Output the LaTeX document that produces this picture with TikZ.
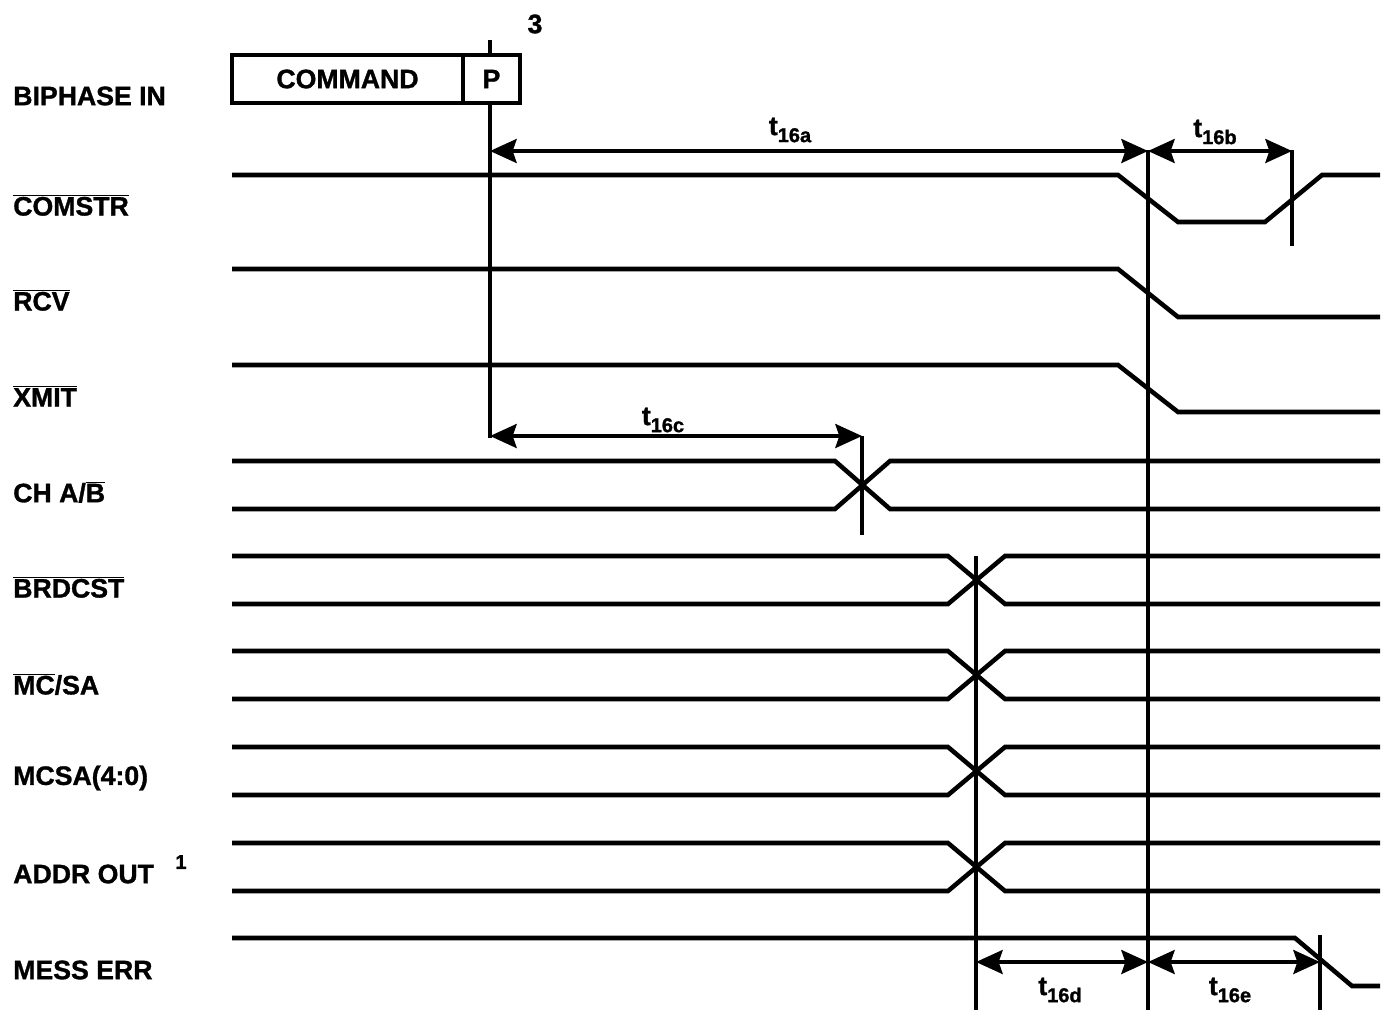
\documentclass[tikz,border=0pt]{standalone}
\usepackage{fontspec}
\setmainfont{Liberation Sans}[BoldFont={Liberation Sans Bold}]
\newfontfamily\bfont{Liberation Sans Bold}[FakeBold=1.2]
\usetikzlibrary{arrows.meta}
\newcommand\ovl[1]{$\overline{\mbox{#1}}$}
\newcommand\tsub[1]{t\raisebox{-0.5ex}{\fontsize{15}{15}\bfont #1}}
\begin{document}
\begin{tikzpicture}[x=0.75pt,y=-0.75pt,
  sig/.style={line width=3.4pt, line join=miter},
  vline/.style={line width=2.6pt},
  dim/.style={line width=2.6pt, {Stealth[length=20pt,width=18pt,inset=3pt,fill=black]}-{Stealth[length=20pt,width=18pt,inset=3pt,fill=black]}},
  lbl/.style={anchor=west, inner sep=0pt, font=\fontsize{20}{24}\bfont},
  tlab/.style={inner sep=0pt, font=\fontsize{20}{24}\bfont},
  boxn/.style={draw, line width=2.6pt, minimum height=36pt, inner sep=0pt, font=\fontsize{20}{24}\bfont}]
\useasboundingbox (0,0) rectangle (1385,1011);

% labels
\node[lbl] (lbip) at (13,96) {BIPHASE IN};
\node[lbl] (lcom) at (13,205) {\ovl{COMSTR}};
\node[lbl] (lrcv) at (13,300) {\ovl{RCV}};
\node[lbl] (lxmit) at (13,396) {\ovl{XMIT}};
\node[lbl] (lch) at (13,492) {CH A/\ovl{B}};
\node[lbl] (lbrd) at (13,587) {\ovl{BRDCST}};
\node[lbl] (lmc) at (13,684) {\ovl{MC}/SA};
\node[lbl] (lmcsa) at (13,778) {MCSA(4:0)};
\node[lbl] (ladr) at (13,874) {ADDR OUT};
\node[tlab, font=\fontsize{15}{15}\bfont] (sup1) at (181,862) {1};
\node[lbl] (lmes) at (13,970) {MESS ERR};

% command box
\node[boxn, minimum width=173.25pt] (cmd) at (347.5,79) {COMMAND};
\node[boxn, minimum width=42.75pt] (pbox) at (491.5,79) {P};
\node[tlab] (three) at (535,24) {3};

% reference coordinates
\coordinate (v0top) at (490,40);
\coordinate (a1) at (490,151);
\coordinate (a2) at (1148,151);
\coordinate (a3) at (1292,151);
\coordinate (c1) at (490,436);
\coordinate (c2) at (862,436);
\coordinate (d1) at (976,962);
\coordinate (d2) at (1148,962);
\coordinate (d3) at (1320,962);

% vertical lines
\draw[vline] (v0top) -- (pbox.north -| v0top);
\draw[vline] (pbox.south -| v0top) -- (490,438);
\draw[vline] (1148,150) -- (1148,1010);
\draw[vline] (1292,150) -- (1292,246);
\draw[vline] (862,436) -- (862,535);
\draw[vline] (976,556) -- (976,1010);
\draw[vline] (1320,935) -- (1320,1010);

% waveforms
\draw[sig] (232,175) -- (1118,175) -- (1178,222) -- (1265,222) -- (1322,175) -- (1380,175);
\draw[sig] (232,269) -- (1118,269) -- (1178,317) -- (1380,317);
\draw[sig] (232,365) -- (1118,365) -- (1178,412) -- (1380,412);
\draw[sig] (232,461) -- (835,461) -- (890,509) -- (1380,509);
\draw[sig] (232,509) -- (835,509) -- (890,461) -- (1380,461);
\foreach \y in {556,651,747,843}{
  \draw[sig] (232,\y) -- (948,\y) -- (1005,\y+48) -- (1380,\y+48);
  \draw[sig] (232,\y+48) -- (948,\y+48) -- (1005,\y) -- (1380,\y);
}
\draw[sig] (232,938) -- (1295,938) -- (1352,986) -- (1380,986);

% dimension arrows
\draw[dim] (a1) -- (a2);
\draw[dim] (a2) -- (a3);
\draw[dim] (c1) -- (c2);
\draw[dim] (d1) -- (d2);
\draw[dim] (d2) -- (d3);

\node[tlab] (t16a) at (790,130) {\tsub{16a}};
\node[tlab] (t16b) at (1215,132) {\tsub{16b}};
\node[tlab] (t16c) at (663,420) {\tsub{16c}};
\node[tlab] (t16d) at (1060,990) {\tsub{16d}};
\node[tlab] (t16e) at (1230,990) {\tsub{16e}};
\end{tikzpicture}
\end{document}
